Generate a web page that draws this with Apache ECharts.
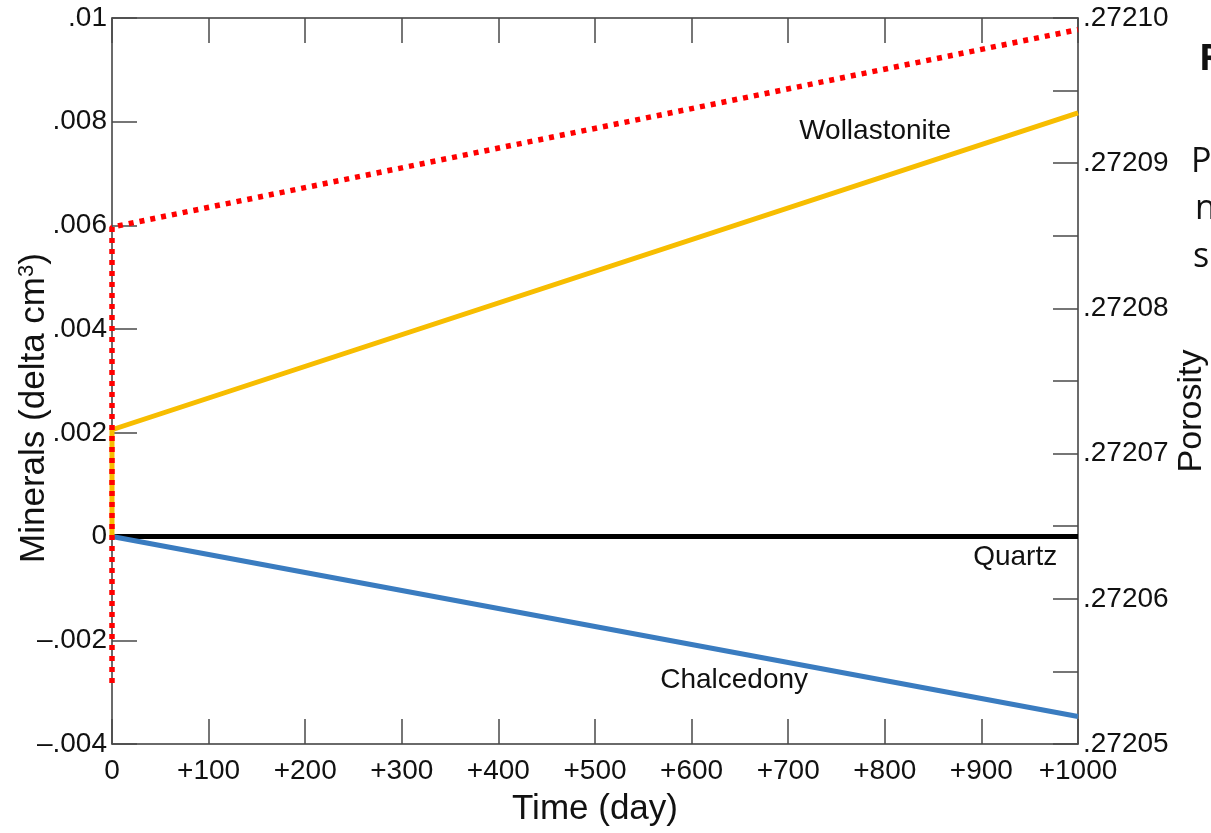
<!DOCTYPE html>
<html>
<head>
<meta charset="utf-8">
<script src="https://cdn.jsdelivr.net/npm/echarts@6/dist/echarts.min.js"></script>
<style>
html,body{margin:0;padding:0;background:#fff;}
#chart{width:1211px;height:833px;}
</style>
</head>
<body>
<div id="chart"></div>
<script>
// ---- data ----
var timeTicks = [0, 100, 200, 300, 400, 500, 600, 700, 800, 900, 1000];
var quartz = [[0, 0], [1000, 0]];
var chalcedony = [[0, 0], [1000, -0.00347]];
var wollastonite = [[0, 0], [0, 0.00206], [1000, 0.00817]];
var porosity = [[0, 0.2720542], [0, 0.2720856], [1000, 0.2720992]];
var seriesLabels = [
  {name: 'Wollastonite', coord: [790, 0.00782]},
  {name: 'Quartz', coord: [935, -0.00039]},
  {name: 'Chalcedony', coord: [644, -0.00277]}
];
var sideTexts = ['R', 'P', 'n', 's'];

var FONT = '"Liberation Sans", Arial, sans-serif';
var axisCol = '#3a3a3a';
var tickStyle = {color: '#4a4a4a', width: 1.5};

function fmtLeft(v) {
  if (Math.abs(v) < 1e-12) return '0';
  var s = Math.abs(v).toFixed(3).replace(/0+$/, '').replace(/^0/, '');
  return (v < 0 ? '\u2013' : '') + s;
}
function fmtRight(v) {
  return v.toFixed(5).replace(/^0/, '');
}

var chart = echarts.init(document.getElementById('chart'), null, {renderer: 'canvas'});

var option = {
  backgroundColor: '#ffffff',
  animation: false,
  grid: {left: 112, right: 133, top: 18, bottom: 89, containLabel: false, outerBoundsMode: 'none'},
  xAxis: [
    {
      type: 'value', position: 'bottom', min: 0, max: 1000, interval: 100,
      name: 'Time (day)', nameLocation: 'middle', nameGap: 48, nameMoveOverlap: false,
      nameTextStyle: {fontFamily: FONT, fontSize: 35, color: '#111'},
      axisLine: {show: true, onZero: false, lineStyle: {color: axisCol, width: 1.5}},
      axisTick: {show: true, inside: true, length: 25, lineStyle: tickStyle},
      axisLabel: {fontFamily: FONT, fontSize: 28, color: '#111', margin: 13, hideOverlap: false,
        formatter: function (v) { return v === 0 ? '0' : '+' + v; }},
      splitLine: {show: false}
    },
    {
      type: 'value', position: 'top', min: 0, max: 1000, interval: 100,
      axisLine: {show: true, onZero: false, lineStyle: {color: axisCol, width: 1.5}},
      axisTick: {show: true, inside: true, length: 25, lineStyle: tickStyle},
      axisLabel: {show: false},
      splitLine: {show: false}
    }
  ],
  yAxis: [
    {
      type: 'value', position: 'left', min: -0.004, max: 0.01, interval: 0.002,
      name: 'Minerals (delta cm{sup|3})', nameLocation: 'middle', nameGap: 60, nameRotate: 90,
      nameMoveOverlap: false,
      nameTextStyle: {fontFamily: FONT, fontSize: 35, color: '#111', padding: [0, 54, 0, 0],
        rich: {sup: {fontFamily: FONT, fontSize: 22, color: '#111', verticalAlign: 'top', padding: [0, 0, 14, 0]}}},
      axisLine: {show: true, onZero: false, lineStyle: {color: axisCol, width: 1.5}},
      axisTick: {show: true, inside: true, length: 25, lineStyle: tickStyle},
      axisLabel: {fontFamily: FONT, fontSize: 28, color: '#111', margin: 5, padding: [8, 0, 0, 0], formatter: fmtLeft},
      splitLine: {show: false}
    },
    {
      type: 'value', position: 'right', min: 0.27205, max: 0.2721, interval: 0.00001,
      name: 'Porosity', nameLocation: 'middle', nameGap: 97, nameRotate: 90,
      nameMoveOverlap: false,
      nameTextStyle: {fontFamily: FONT, fontSize: 34, color: '#111', padding: [0, 60, 0, 0]},
      axisLine: {show: true, onZero: false, lineStyle: {color: axisCol, width: 1.5}},
      axisTick: {show: true, inside: true, length: 25, lineStyle: tickStyle},
      minorTick: {show: true, splitNumber: 2, length: 25, lineStyle: tickStyle},
      axisLabel: {fontFamily: FONT, fontSize: 28, color: '#111', margin: 5, formatter: fmtRight},
      splitLine: {show: false},
      minorSplitLine: {show: false}
    }
  ],
  series: [
    {
      name: 'Quartz', type: 'line', xAxisIndex: 0, yAxisIndex: 0, data: quartz,
      showSymbol: false, symbol: 'none', z: 2,
      lineStyle: {color: '#000000', width: 5}
    },
    {
      name: 'Chalcedony', type: 'line', xAxisIndex: 0, yAxisIndex: 0, data: chalcedony,
      showSymbol: false, symbol: 'none', z: 3,
      lineStyle: {color: '#3a7cc0', width: 5}
    },
    {
      name: 'Wollastonite', type: 'line', xAxisIndex: 0, yAxisIndex: 0, data: wollastonite,
      showSymbol: false, symbol: 'none', z: 4,
      lineStyle: {color: '#f7bd00', width: 5, join: 'miter'},
      markPoint: {
        symbol: 'circle', symbolSize: 1, silent: true,
        itemStyle: {color: 'rgba(0,0,0,0)'},
        label: {show: true, position: 'inside', fontFamily: FONT, fontSize: 28, color: '#111',
          formatter: function (p) { return p.name; }},
        data: seriesLabels.map(function (d) { return {name: d.name, coord: d.coord}; })
      }
    },
    {
      name: 'Porosity', type: 'line', xAxisIndex: 0, yAxisIndex: 1, data: porosity,
      showSymbol: false, symbol: 'none', z: 5,
      lineStyle: {color: '#ff0000', width: 5.5, type: [5, 6], cap: 'butt'}
    }
  ],
  graphic: [
    {type: 'text', left: 1199, top: 42, style: {text: sideTexts[0], font: 'bold 36px "Open Sans", sans-serif', fill: '#111'}},
    {type: 'text', left: 1191, top: 145, style: {text: sideTexts[1], font: '34px "Open Sans", sans-serif', fill: '#111'}},
    {type: 'text', left: 1195, top: 192, style: {text: sideTexts[2], font: '34px "Open Sans", sans-serif', fill: '#111'}},
    {type: 'text', left: 1193, top: 240, style: {text: sideTexts[3], font: '34px "Open Sans", sans-serif', fill: '#111'}}
  ]
};
chart.setOption(option);
</script>
</body>
</html>
